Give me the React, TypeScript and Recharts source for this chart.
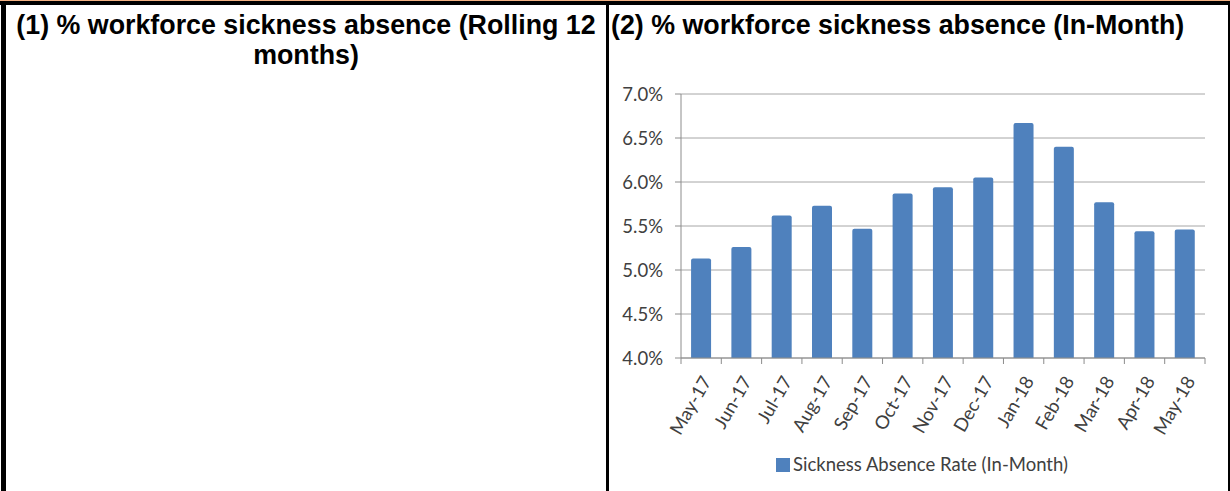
import React from 'react'
import { BarChart, Bar, XAxis, YAxis, CartesianGrid, Legend } from 'recharts'

const months = ['May-17', 'Jun-17', 'Jul-17', 'Aug-17', 'Sep-17', 'Oct-17', 'Nov-17', 'Dec-17', 'Jan-18', 'Feb-18', 'Mar-18', 'Apr-18', 'May-18']
const sicknessRates = [5.13, 5.26, 5.62, 5.73, 5.47, 5.87, 5.94, 6.05, 6.67, 6.4, 5.77, 5.44, 5.46]
const yTicks = [4.0, 4.5, 5.0, 5.5, 6.0, 6.5, 7.0]

const leftTitle = '(1) % workforce sickness absence (Rolling 12 months)'
const rightTitle = '(2) % workforce sickness absence (In-Month)'
const seriesName = 'Sickness Absence Rate (In-Month)'

const chartData = months.map((m, i) => ({ month: m, rate: sicknessRates[i] }))

const CHART_W = 622
const CHART_H = 491
const MARGIN = { top: 94, right: 25, left: 0, bottom: 14 }
const Y_W = 73
const LEGEND_H = 26
const PLOT_H = 264
const BAND = (CHART_W - MARGIN.left - MARGIN.right - Y_W) / months.length

const BAR_COLOR = '#4f81bd'
const GRID = '#a6a6a6'
const AXIS = '#8c8c8c'
const TEXT = '#404040'
const FONT = 'Lato, "Open Sans", sans-serif'
const FONT_SIZE = 18.5

function MonthTick(props: any) {
  const { x, y, payload, index } = props
  const half = BAND / 2
  return (
    <g>
      <line x1={x - half} y1={y} x2={x - half} y2={y + 6} stroke={AXIS} />
      {index === months.length - 1 && (
        <line x1={x + half} y1={y} x2={x + half} y2={y + 6} stroke={AXIS} />
      )}
      <text
        transform={`translate(${x + 11},${y + 23}) rotate(-60)`}
        textAnchor="end"
        fontSize={FONT_SIZE}
        fontFamily={FONT}
        fill={TEXT}
      >
        {payload.value}
      </text>
    </g>
  )
}

function LegendBox() {
  return (
    <div style={{ height: LEGEND_H, paddingLeft: 31, textAlign: 'center', fontFamily: FONT, fontSize: FONT_SIZE, color: TEXT, lineHeight: `${LEGEND_H}px` }}>
      <span style={{ display: 'inline-block', width: 14, height: 14, background: BAR_COLOR, marginRight: 3, verticalAlign: -1 }} />
      {seriesName}
    </div>
  )
}

export default function App() {
  const titleStyle: React.CSSProperties = {
    position: 'absolute',
    top: 10,
    fontFamily: '"Liberation Sans", Arial, sans-serif',
    fontWeight: 'bold',
    fontSize: 26.8,
    lineHeight: '30px',
    color: '#000',
  }
  return (
    <div style={{ position: 'fixed', left: 0, top: 0, width: 1230, height: 491, background: '#fff', overflow: 'hidden' }}>
      <div style={{ position: 'absolute', left: 0, top: 0, width: 1230, height: 1, background: '#f4b183' }} />
      <div style={{ position: 'absolute', left: 0, top: 1, width: 1230, height: 4, background: '#000' }} />
      <div style={{ position: 'absolute', left: 1, top: 1, width: 5, height: 490, background: '#000' }} />
      <div style={{ position: 'absolute', left: 606, top: 1, width: 3, height: 490, background: '#000' }} />
      <div style={{ position: 'absolute', left: 1228, top: 1, width: 2, height: 490, background: '#000' }} />

      <div style={{ ...titleStyle, left: 6, width: 600, textAlign: 'center' }}>{leftTitle}</div>
      <div style={{ ...titleStyle, left: 611, whiteSpace: 'nowrap' }}>{rightTitle}</div>

      <div style={{ position: 'absolute', left: 608, top: 0, width: CHART_W, height: CHART_H }}>
        <BarChart width={CHART_W} height={CHART_H} data={chartData} margin={MARGIN} barCategoryGap="25%">
          <CartesianGrid vertical={false} stroke={GRID} />
          <XAxis
            dataKey="month"
            interval={0}
            height={CHART_H - MARGIN.top - MARGIN.bottom - LEGEND_H - PLOT_H}
            tickLine={false}
            tickSize={0}
            tickMargin={0}
            stroke={AXIS}
            tick={<MonthTick />}
          />
          <YAxis
            width={Y_W}
            domain={[4, 7]}
            ticks={yTicks}
            tickFormatter={(v: number) => `${v.toFixed(1)}%`}
            tickSize={6}
            tickMargin={12}
            stroke={AXIS}
            tick={{ fontSize: FONT_SIZE, fontFamily: FONT, fill: TEXT }}
            allowDataOverflow
          />
          <Legend verticalAlign="bottom" content={<LegendBox />} />
          <Bar dataKey="rate" name={seriesName} fill={BAR_COLOR} radius={[2, 2, 0, 0]} isAnimationActive={false} />
        </BarChart>
      </div>
    </div>
  )
}
